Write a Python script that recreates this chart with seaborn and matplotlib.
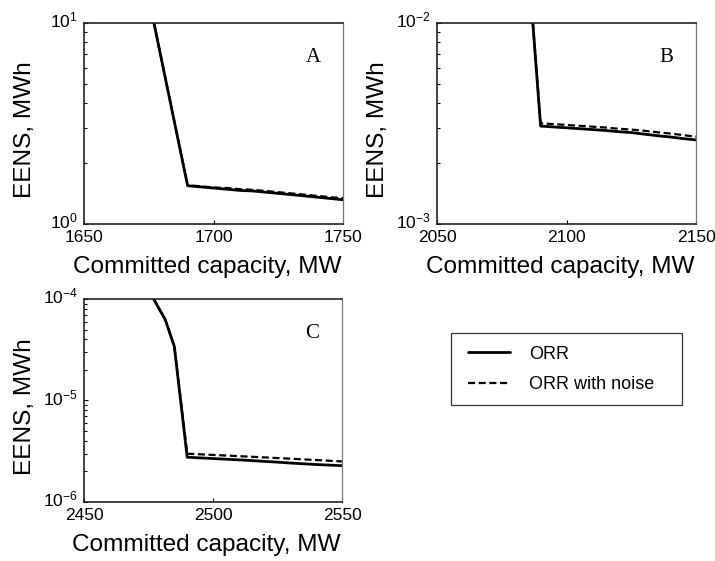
import numpy as np
import pandas as pd
import matplotlib
matplotlib.use("Agg")
import matplotlib.pyplot as plt
import matplotlib.transforms as mtransforms
from matplotlib.lines import Line2D
from matplotlib.patches import Rectangle
from matplotlib.ticker import LogLocator, FixedLocator, NullFormatter
import seaborn as sns

sns.set_theme(style="white")
plt.rcParams["font.family"] = ["Liberation Sans", "DejaVu Sans"]
plt.rcParams["mathtext.fontset"] = "custom"
plt.rcParams["mathtext.rm"] = "Liberation Sans"
plt.rcParams["mathtext.it"] = "Liberation Sans"
plt.rcParams["text.color"] = "black"
plt.rcParams["axes.labelcolor"] = "black"
plt.rcParams["xtick.color"] = "black"
plt.rcParams["ytick.color"] = "black"

# Case A
cap_a = [1677, 1690, 1695, 1700, 1705, 1710, 1715, 1720, 1725, 1730, 1735, 1740, 1745, 1750]
eens_a = [10.0, 1.55, 1.53, 1.51, 1.49, 1.47, 1.46, 1.44, 1.42, 1.40, 1.38, 1.36, 1.34, 1.32]
noise_a = [10.0, 1.56, 1.54, 1.52, 1.51, 1.49, 1.48, 1.46, 1.44, 1.42, 1.40, 1.38, 1.36, 1.345]

# Case B
cap_b = [2087, 2090, 2095, 2100, 2105, 2110, 2115, 2120, 2125, 2130, 2135, 2140, 2145, 2150]
eens_b = [1.0e-2, 3.07e-3, 3.04e-3, 3.01e-3, 2.98e-3, 2.95e-3, 2.92e-3, 2.88e-3, 2.85e-3, 2.80e-3, 2.75e-3, 2.71e-3, 2.66e-3, 2.62e-3]
noise_b = [1.0e-2, 3.17e-3, 3.14e-3, 3.11e-3, 3.08e-3, 3.05e-3, 3.02e-3, 2.98e-3, 2.95e-3, 2.91e-3, 2.86e-3, 2.82e-3, 2.77e-3, 2.72e-3]

# Case C
cap_c = [2477, 2481.5, 2485, 2490, 2495, 2500, 2505, 2510, 2515, 2520, 2525, 2530, 2535, 2540, 2545, 2550]
eens_c = [1.0e-4, 6.25e-5, 3.42e-5, 2.76e-6, 2.72e-6, 2.68e-6, 2.64e-6, 2.60e-6, 2.56e-6, 2.51e-6, 2.47e-6, 2.42e-6, 2.38e-6, 2.34e-6, 2.31e-6, 2.28e-6]
noise_c = [1.0e-4, 6.25e-5, 3.42e-5, 2.99e-6, 2.95e-6, 2.91e-6, 2.87e-6, 2.83e-6, 2.79e-6, 2.75e-6, 2.71e-6, 2.67e-6, 2.63e-6, 2.59e-6, 2.55e-6, 2.51e-6]

panels = [
    ("A", cap_a, eens_a, noise_a, [1650, 1700, 1750], (1.0, 10.0)),
    ("B", cap_b, eens_b, noise_b, [2050, 2100, 2150], (1e-3, 1e-2)),
    ("C", cap_c, eens_c, noise_c, [2450, 2500, 2550], (1e-6, 1e-4)),
]

series_labels = ["ORR", "ORR with noise"]

W, H = 715, 561
fig = plt.figure(figsize=(W / 100, H / 100), dpi=100)

# axes boxes in pixels: left, top, right, bottom
boxes = [(84, 23, 343, 224), (437, 23, 696, 224), (84, 299, 342, 502)]
dash = (0, (3.2, 1.6))
lift = mtransforms.ScaledTranslation(0, 4 / 100, fig.dpi_scale_trans)

for (letter, cap, eens, noise, xt, ylim), (l, t, r, b) in zip(panels, boxes):
    ax = fig.add_axes([l / W, 1 - b / H, (r - l) / W, (b - t) / H])
    df = pd.DataFrame({"cap": cap, "ORR": eens, "ORR with noise": noise})
    sns.lineplot(data=df, x="cap", y="ORR with noise", ax=ax, color="black",
                 linewidth=1.6, linestyle=dash)
    sns.lineplot(data=df, x="cap", y="ORR", ax=ax, color="black", linewidth=2.0)
    ax.set_yscale("log")
    ax.set_xlim(xt[0], xt[-1])
    ax.set_ylim(*ylim)
    ax.xaxis.set_major_locator(FixedLocator(xt))
    ax.yaxis.set_major_locator(LogLocator(base=10))
    ax.yaxis.set_minor_locator(LogLocator(base=10, subs=np.arange(2, 10)))
    ax.yaxis.set_minor_formatter(NullFormatter())
    ax.tick_params(axis="both", which="both", direction="in", bottom=True, left=True,
                   top=False, right=False, colors="black")
    ax.tick_params(axis="both", which="major", length=3, width=0.8, labelsize=12.5, pad=4.5)
    ax.tick_params(axis="y", which="minor", length=2.5, width=0.8)
    ax.tick_params(axis="x", which="minor", bottom=False)
    for lab in ax.get_yticklabels():
        lab.set_transform(lab.get_transform() + lift)

    h_ax = b - t
    ax.set_xlabel("Committed capacity, MW", fontsize=17.6)
    ax.xaxis.label.set_va("baseline")
    ax.xaxis.set_label_coords(0.475, -49 / h_ax)
    ax.set_ylabel("EENS, MWh", fontsize=17.6)
    ax.yaxis.label.set_va("center")
    ax.yaxis.set_label_coords(-0.228, 0.47)

    for side in ["left", "top", "bottom"]:
        ax.spines[side].set_color("#222222")
        ax.spines[side].set_linewidth(1.2)
    ax.spines["right"].set_color("#777777")
    ax.spines["right"].set_linewidth(0.9)
    ax.text(0.885, 0.83, letter, transform=ax.transAxes, ha="center", va="center",
            fontsize=15, family=["Liberation Serif", "DejaVu Serif"])

# Legend box drawn as a plain rectangle, entries placed inside it
fig.patches.append(Rectangle((451 / W, 1 - 405 / H), (682 - 451) / W, (405 - 333) / H,
                             transform=fig.transFigure, fill=False,
                             edgecolor="#333333", linewidth=0.9, zorder=5))
handles = [Line2D([], [], color="black", linewidth=2.0),
           Line2D([], [], color="black", linewidth=1.6, linestyle=dash)]
leg = fig.legend(handles, series_labels, loc="center left",
                 bbox_to_anchor=(468 / W, 1 - 369.5 / H), fontsize=13,
                 frameon=False, handlelength=2.3, handletextpad=1.1, borderpad=0,
                 labelspacing=0.75, borderaxespad=0)
for txt in leg.get_texts():
    txt.set_color("black")

fig.savefig("out.png", dpi=100, facecolor="white")
